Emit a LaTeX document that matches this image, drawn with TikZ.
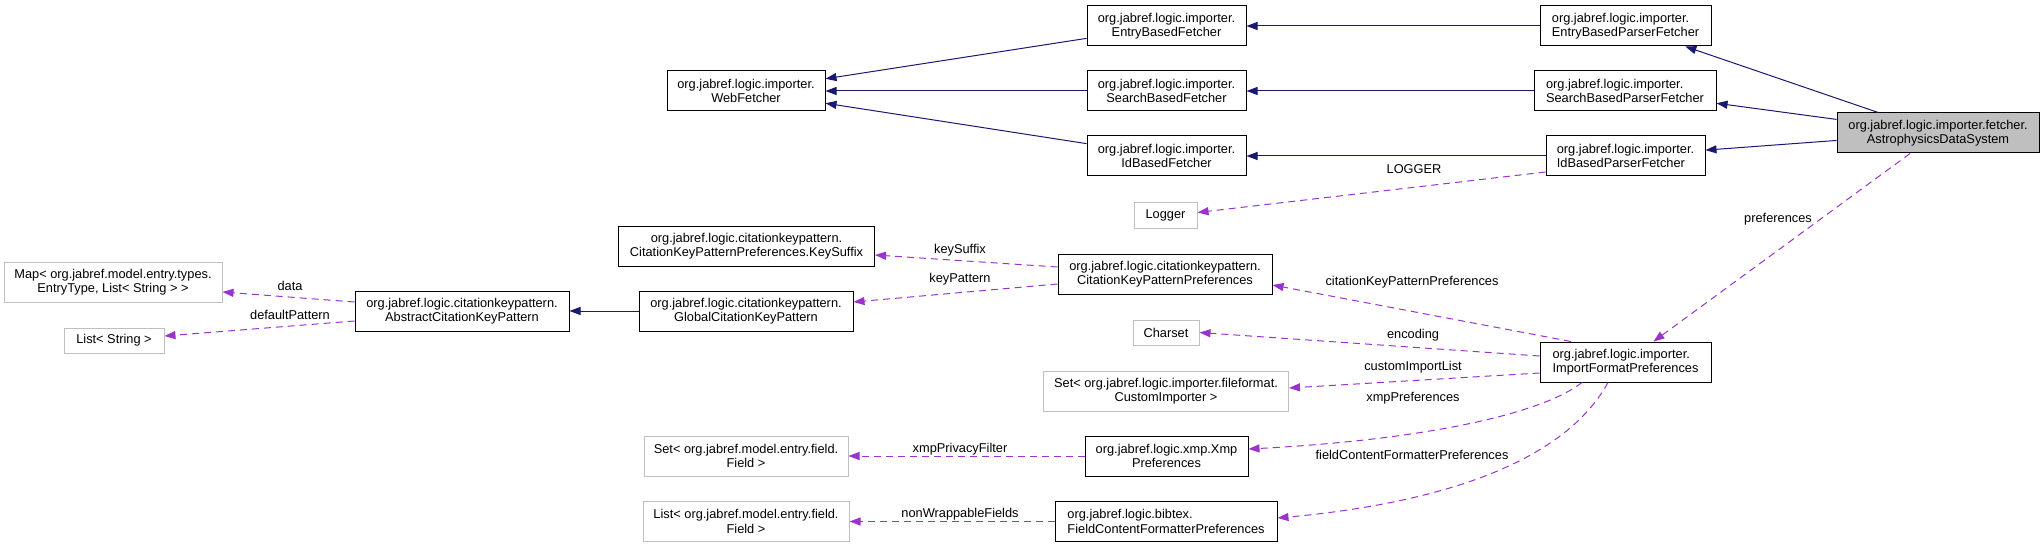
\documentclass[tikz,border=0pt]{standalone}
\usepackage{fontspec}
\setmainfont{Liberation Sans}
\usetikzlibrary{arrows.meta}
\definecolor{inh}{HTML}{191970}
\definecolor{usec}{HTML}{9A32CD}
\definecolor{gb}{HTML}{BFBFBF}
\begin{document}
\begin{tikzpicture}[x=1pt,y=-1pt,
  every node/.style={font=\fontsize{12.8}{14.5}\selectfont},
  box/.style={draw=black, line width=1pt, fill=white, minimum height=40pt, inner sep=0pt, align=center},
  lbox/.style={box, align=left},
  gbox/.style={box, draw=gb},
  sbox/.style={gbox, minimum height=26pt},
  inhe/.style={color=inh, line width=1pt, -{Triangle[length=11pt,width=8pt]}},
  usee/.style={color=usec, line width=1pt, dash pattern=on 7pt off 5pt, -{Triangle[length=11pt,width=8pt]}},
  lbl/.style={inner sep=0pt, text=black}
]
\useasboundingbox (0,0) rectangle (2044,548);

% nodes
\node[box, minimum width=159pt] (ebf) at (1166.5,26) {org.jabref.logic.importer.\\EntryBasedFetcher};
\node[box, minimum width=158pt] (wf) at (746,91) {org.jabref.logic.importer.\\WebFetcher};
\node[box, minimum width=159pt] (sbf) at (1166.5,91) {org.jabref.logic.importer.\\SearchBasedFetcher};
\node[box, minimum width=159pt] (ibf) at (1166.5,156) {org.jabref.logic.importer.\\IdBasedFetcher};
\node[lbox, minimum width=171pt] (ebpf) at (1625.5,26) {org.jabref.logic.importer.\\EntryBasedParserFetcher};
\node[lbox, minimum width=182pt] (sbpf) at (1625,91) {org.jabref.logic.importer.\\SearchBasedParserFetcher};
\node[lbox, minimum width=159pt] (ibpf) at (1625.5,156) {org.jabref.logic.importer.\\IdBasedParserFetcher};
\node[box, fill=gb, minimum width=202pt] (ads) at (1938,133) {org.jabref.logic.importer.fetcher.\\AstrophysicsDataSystem};
\node[sbox, minimum width=63pt, minimum height=25pt] (logger) at (1165.5,215.5) {Logger};
\node[box, minimum width=256pt] (ksuf) at (746.5,246) {org.jabref.logic.citationkeypattern.\\CitationKeyPatternPreferences.KeySuffix};
\node[box, minimum width=214pt] (ckpp) at (1165,274) {org.jabref.logic.citationkeypattern.\\CitationKeyPatternPreferences};
\node[box, minimum width=214pt] (gckp) at (746,311) {org.jabref.logic.citationkeypattern.\\GlobalCitationKeyPattern};
\node[box, minimum width=214pt] (ackp) at (462,311) {org.jabref.logic.citationkeypattern.\\AbstractCitationKeyPattern};
\node[gbox, minimum width=218pt] (map) at (113,282) {Map< org.jabref.model.entry.types.\\EntryType, List< String > >};
\node[sbox, minimum width=100pt, minimum height=25pt] (lstr) at (114,340.5) {List< String >};
\node[sbox, minimum width=66pt, minimum height=25pt] (charset) at (1166,332.5) {Charset};
\node[gbox, minimum width=245pt] (setci) at (1166,391) {Set< org.jabref.logic.importer.fileformat.\\CustomImporter >};
\node[lbox, minimum width=171pt] (ifp) at (1625.5,362) {org.jabref.logic.importer.\\ImportFormatPreferences};
\node[gbox, minimum width=204pt] (setf) at (746,456) {Set< org.jabref.model.entry.field.\\Field >};
\node[box, minimum width=163pt] (xmp) at (1166.5,456) {org.jabref.logic.xmp.Xmp\\Preferences};
\node[gbox, minimum width=206pt] (listf) at (746,521.5) {List< org.jabref.model.entry.field.\\Field >};
\node[lbox, minimum width=222pt] (fcfp) at (1166,521.5) {org.jabref.logic.bibtex.\\FieldContentFormatterPreferences};

% inheritance
\draw[inhe] (ebf) -- (wf);
\draw[inhe] (sbf) -- (wf);
\draw[inhe] (ibf) -- (wf);
\draw[inhe] (ebpf) -- (ebf);
\draw[inhe] (sbpf) -- (sbf);
\draw[inhe] (ibpf) -- (ibf);
\draw[inhe] (ads) -- (ebpf);
\draw[inhe] (ads) -- (sbpf);
\draw[inhe] (ads) -- (ibpf);
\draw[inhe] (gckp) -- (ackp);

% usage
\draw[usee] ([yshift=-16pt]ibpf.west) -- ([yshift=3pt]logger.east);
\draw[usee] (ads) -- (ifp);
\draw[usee] ([xshift=-54.5pt]ifp.north) -- ([yshift=-11pt]ckpp.east);
\draw[usee] ([yshift=6pt]ifp.west) -- (charset.east);
\draw[usee] ([yshift=-11pt]ifp.west) -- ([yshift=3pt]setci.east);
\draw[usee] ([xshift=-43.5pt]ifp.south) .. controls (1540,415) and (1420,440) .. ([yshift=7pt]xmp.east);
\draw[usee] ([xshift=-17.5pt]ifp.south) .. controls (1560,470) and (1420,505) .. ([yshift=3.5pt]fcfp.east);
\draw[usee] ([yshift=7pt]ckpp.west) -- ([yshift=-9pt]ksuf.east);
\draw[usee] ([yshift=-10pt]ckpp.west) -- ([yshift=9pt]gckp.east);
\draw[usee] ([yshift=9pt]ackp.west) -- ([yshift=-10pt]map.east);
\draw[usee] ([yshift=-10pt]ackp.west) -- ([yshift=4.5pt]lstr.east);
\draw[usee] (xmp) -- (setf);
\draw[usee] (fcfp) -- (listf);

% labels
\node[lbl] (l1) at (1414,169) {LOGGER};
\node[lbl] (l2) at (1778,219) {preferences};
\node[lbl] (l3) at (1412,282) {citationKeyPatternPreferences};
\node[lbl] (l4) at (1413,335) {encoding};
\node[lbl] (l5) at (1413,367) {customImportList};
\node[lbl] (l6) at (1413,398) {xmpPreferences};
\node[lbl] (l7) at (1412,455) {fieldContentFormatterPreferences};
\node[lbl] (l8) at (960,250) {keySuffix};
\node[lbl] (l9) at (960,279) {keyPattern};
\node[lbl] (l10) at (290,286) {data};
\node[lbl] (l11) at (290,315) {defaultPattern};
\node[lbl] (l12) at (960,449) {xmpPrivacyFilter};
\node[lbl] (l13) at (960,514) {nonWrappableFields};
\end{tikzpicture}
\end{document}
